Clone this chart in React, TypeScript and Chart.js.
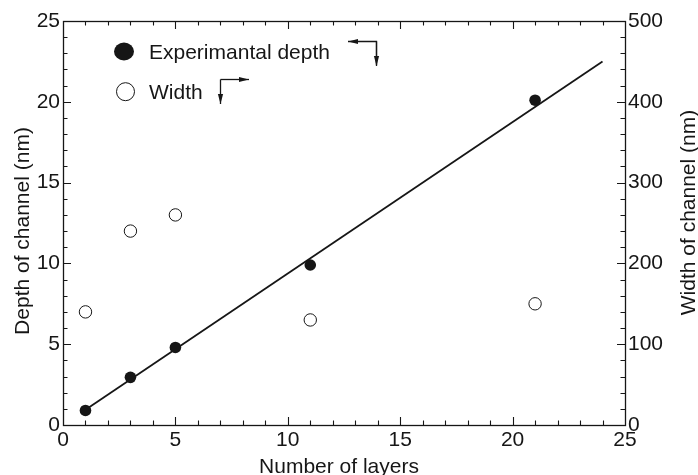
import React, { useEffect, useRef } from "react";
import { Chart, registerables } from "chart.js";

Chart.register(...registerables);

const layers = [1, 3, 5, 11, 21];
const depthNm = [0.9, 2.95, 4.8, 9.9, 20.1];
const widthNm = [140, 240, 260, 130, 150];
const fitLayers = [1, 24];
const fitDepth = [0.95, 22.5];

const xTicks = [0, 5, 10, 15, 20, 25];
const yTicks = [0, 5, 10, 15, 20, 25];
const y2Ticks = [0, 100, 200, 300, 400, 500];

const FONT = '"Liberation Sans", Arial, Helvetica, sans-serif';
const INK = "#161616";

const decorPlugin = {
  id: "decor",
  beforeDatasetsDraw(chart: any) {
    const { ctx, chartArea } = chart;
    const { left, right, top, bottom } = chartArea;
    const xs = chart.scales.x;
    const ys = chart.scales.y;
    ctx.save();
    ctx.strokeStyle = INK;
    ctx.lineWidth = 1.3;
    ctx.strokeRect(left + 0.5, top + 0.5, right - left, bottom - top);
    ctx.lineWidth = 1.1;
    ctx.beginPath();
    for (let v = 1; v < 25; v++) {
      const len = v % 5 === 0 ? 8 : 4.5;
      const px = Math.round(xs.getPixelForValue(v)) + 0.5;
      ctx.moveTo(px, bottom);
      ctx.lineTo(px, bottom - len);
      ctx.moveTo(px, top);
      ctx.lineTo(px, top + len);
      const py = Math.round(ys.getPixelForValue(v)) + 0.5;
      ctx.moveTo(left, py);
      ctx.lineTo(left + len, py);
      ctx.moveTo(right, py);
      ctx.lineTo(right - len, py);
    }
    ctx.stroke();
    ctx.restore();
  },
  afterDatasetsDraw(chart: any) {
    const { ctx, chartArea } = chart;
    const { left, right, top, bottom } = chartArea;
    ctx.save();
    ctx.fillStyle = INK;
    ctx.strokeStyle = INK;
    ctx.font = `21px ${FONT}`;
    ctx.textBaseline = "alphabetic";
    ctx.textAlign = "left";

    // legend
    ctx.beginPath();
    ctx.ellipse(left + 61, top + 30.5, 10, 9, 0, 0, Math.PI * 2);
    ctx.fill();
    ctx.fillText("Experimantal depth", left + 86, top + 37.5);
    ctx.beginPath();
    ctx.lineWidth = 1;
    ctx.arc(left + 62.5, top + 70.7, 9, 0, Math.PI * 2);
    ctx.stroke();
    ctx.fillText("Width", left + 86, top + 77.5);

    // arrows
    const arrow = (pts: number[][]) => {
      ctx.beginPath();
      ctx.lineWidth = 1.3;
      ctx.moveTo(pts[0][0], pts[0][1]);
      for (let i = 1; i < pts.length; i++) ctx.lineTo(pts[i][0], pts[i][1]);
      ctx.stroke();
      const [a, b] = [pts[pts.length - 2], pts[pts.length - 1]];
      const ang = Math.atan2(b[1] - a[1], b[0] - a[0]);
      const L = 10, W = 2.6;
      ctx.beginPath();
      ctx.moveTo(b[0], b[1]);
      ctx.lineTo(b[0] - L * Math.cos(ang) - W * Math.sin(ang), b[1] - L * Math.sin(ang) + W * Math.cos(ang));
      ctx.lineTo(b[0] - L * Math.cos(ang) + W * Math.sin(ang), b[1] - L * Math.sin(ang) - W * Math.cos(ang));
      ctx.closePath();
      ctx.fill();
    };
    // depth -> left axis
    arrow([[left + 313.5, top + 44], [left + 313.5, top + 20.5], [left + 285, top + 20.5]]);
    ctx.beginPath();
    // draw the down arrow head for depth
    arrow([[left + 313.5, top + 20.5], [left + 313.5, top + 45]]);
    // width -> right axis
    arrow([[left + 157.5, top + 58.5], [left + 186, top + 58.5]]);
    arrow([[left + 157.5, top + 58.5], [left + 157.5, top + 83]]);

    // axis titles
    ctx.textAlign = "center";
    ctx.fillText("Number of layers", 339, 473);
    ctx.save();
    ctx.translate(28.5, 231);
    ctx.rotate(-Math.PI / 2);
    ctx.fillText("Depth of channel (nm)", 0, 0);
    ctx.restore();
    ctx.save();
    ctx.translate(695, 212.5);
    ctx.rotate(-Math.PI / 2);
    ctx.fillText("Width of channel (nm)", 0, 0);
    ctx.restore();
    ctx.restore();
  },
};

export default function App() {
  const ref = useRef<HTMLCanvasElement>(null);
  useEffect(() => {
    if (!ref.current) return;
    const tickFont = { family: FONT, size: 21 };
    const chart = new Chart(ref.current, {
      type: "scatter",
      data: {
        datasets: [
          {
            label: "Experimantal depth",
            data: layers.map((x, i) => ({ x, y: depthNm[i] })),
            backgroundColor: INK,
            borderColor: INK,
            borderWidth: 0,
            pointRadius: 5.8,
            yAxisID: "y",
          },
          {
            label: "Width",
            data: layers.map((x, i) => ({ x, y: widthNm[i] })),
            backgroundColor: "#ffffff",
            borderColor: INK,
            borderWidth: 1,
            pointRadius: 6.2,
            yAxisID: "y2",
          },
          {
            label: "Fit",
            data: fitLayers.map((x, i) => ({ x, y: fitDepth[i] })),
            showLine: true,
            borderColor: INK,
            borderWidth: 1.8,
            pointRadius: 0,
            yAxisID: "y",
          } as any,
        ],
      },
      options: {
        animation: false,
        responsive: false,
        devicePixelRatio: 1,
        layout: { padding: { top: 21, left: 0, right: 0, bottom: 0 } },
        plugins: { legend: { display: false }, tooltip: { enabled: false } },
        scales: {
          x: {
            type: "linear",
            position: "bottom",
            min: 0,
            max: 25,
            afterBuildTicks: (s: any) => { s.ticks = xTicks.map((v) => ({ value: v })); },
            afterFit: (s: any) => { s.height = 50; },
            grid: { display: false, drawTicks: false },
            border: { display: false },
            ticks: { font: tickFont, color: INK, padding: 3, maxRotation: 0 },
          },
          y: {
            type: "linear",
            position: "left",
            min: 0,
            max: 25,
            afterBuildTicks: (s: any) => { s.ticks = yTicks.map((v) => ({ value: v })); },
            afterFit: (s: any) => { s.width = 63; },
            grid: { display: false, drawTicks: false },
            border: { display: false },
            ticks: { font: tickFont, color: INK, padding: 3 },
          },
          y2: {
            type: "linear",
            position: "right",
            min: 0,
            max: 500,
            afterBuildTicks: (s: any) => { s.ticks = y2Ticks.map((v) => ({ value: v })); },
            afterFit: (s: any) => { s.width = 73; },
            grid: { display: false, drawTicks: false },
            border: { display: false },
            ticks: { font: tickFont, color: INK, padding: 3 },
          },
        },
      } as any,
      plugins: [decorPlugin],
    });
    return () => chart.destroy();
  }, []);
  return (
    <div style={{ position: "absolute", left: 0, top: 0, width: 698, height: 475, background: "#fff" }}>
      <canvas ref={ref} width={698} height={475} style={{ display: "block" }} />
    </div>
  );
}
